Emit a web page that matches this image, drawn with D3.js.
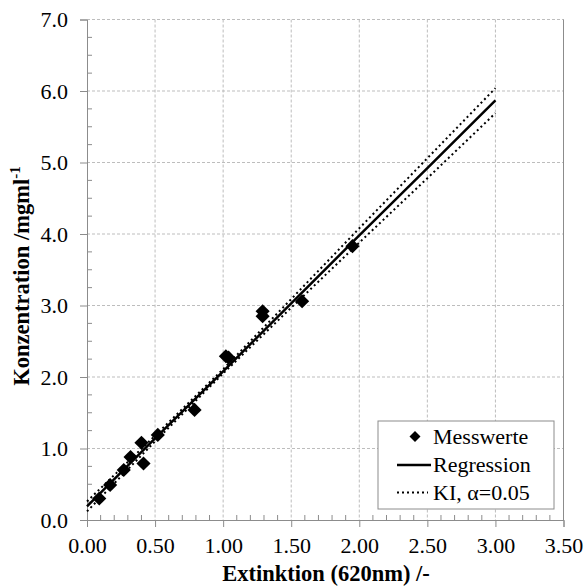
<!DOCTYPE html>
<html>
<head>
<meta charset="utf-8">
<script src="https://cdn.jsdelivr.net/npm/d3@7"></script>
</head>
<body style="margin:0; background:#fff">
<div id="chart"></div>
<script>
// Data
const measX = [0.09, 0.17, 0.27, 0.32, 0.40, 0.415, 0.52, 0.79, 1.02, 1.04, 1.29, 1.29, 1.58, 1.95];
const measY = [0.30, 0.49, 0.70, 0.88, 1.08, 0.79, 1.19, 1.54, 2.29, 2.27, 2.85, 2.92, 3.06, 3.83];

const fitX = [0, 0.5, 1.0, 1.5, 2.0, 2.5, 3.0];
const fitY = [0.19, 1.14, 2.08, 3.03, 3.98, 4.92, 5.87];
const upperY = [0.26, 1.18, 2.11, 3.09, 4.08, 5.06, 6.04];
const lowerY = [0.12, 1.10, 2.05, 2.97, 3.88, 4.78, 5.69];

const xTicks = [0, 0.5, 1.0, 1.5, 2.0, 2.5, 3.0, 3.5];
const yTicks = [0, 1, 2, 3, 4, 5, 6, 7];

const legendLabels = ['Messwerte', 'Regression', 'KI, \u03b1=0.05'];

const serif = '"Liberation Serif"';

// Dimensions
const width = 586, height = 587;
const margin = { top: 19.5, right: 22.5, bottom: 67, left: 87 };
const ctrWidth = width - margin.left - margin.right;
const ctrHeight = height - margin.top - margin.bottom;

const svg = d3.select('#chart')
  .append('svg')
  .attr('width', width)
  .attr('height', height);

const ctr = svg.append('g')
  .attr('transform', `translate(${margin.left}, ${margin.top})`);

// Scales
const xScale = d3.scaleLinear().domain([0, 3.5]).range([0, ctrWidth]);
const yScale = d3.scaleLinear().domain([0, 7]).range([ctrHeight, 0]);

// Grid
ctr.append('g')
  .selectAll('line')
  .data(xTicks.slice(1))
  .join('line')
  .attr('x1', d => xScale(d)).attr('x2', d => xScale(d))
  .attr('y1', 0).attr('y2', ctrHeight)
  .attr('stroke', '#bdbdbd')
  .attr('stroke-dasharray', '3,2');

ctr.append('g')
  .selectAll('line')
  .data(yTicks.slice(1))
  .join('line')
  .attr('x1', 0).attr('x2', ctrWidth)
  .attr('y1', d => yScale(d)).attr('y2', d => yScale(d))
  .attr('stroke', '#bdbdbd')
  .attr('stroke-dasharray', '3,2');

// right border
ctr.append('line')
  .attr('x1', ctrWidth).attr('x2', ctrWidth)
  .attr('y1', 0).attr('y2', ctrHeight)
  .attr('stroke', '#8c8c8c');

// Axes
const xAxis = d3.axisBottom(xScale)
  .tickValues(xTicks)
  .tickFormat(d3.format('.2f'))
  .tickSize(7)
  .tickPadding(10);

const xg = ctr.append('g')
  .attr('transform', `translate(0, ${ctrHeight})`)
  .call(xAxis);

// minor x ticks (inside)
const xMinor = d3.range(0, 3.5001, 0.1).filter(v => Math.abs(v * 2 - Math.round(v * 2)) > 1e-6);
ctr.append('g')
  .selectAll('line')
  .data(xMinor)
  .join('line')
  .attr('x1', d => xScale(d)).attr('x2', d => xScale(d))
  .attr('y1', ctrHeight).attr('y2', ctrHeight - 5)
  .attr('stroke', '#8c8c8c');

const yAxis = d3.axisLeft(yScale)
  .tickValues(yTicks)
  .tickFormat(d3.format('.1f'))
  .tickSize(7)
  .tickPadding(12);

const yg = ctr.append('g').call(yAxis);

const yMinor = d3.range(0, 7.0001, 0.25).filter(v => Math.abs(v - Math.round(v)) > 1e-6);
ctr.append('g')
  .selectAll('line')
  .data(yMinor)
  .join('line')
  .attr('x1', 0).attr('x2', 5)
  .attr('y1', d => yScale(d)).attr('y2', d => yScale(d))
  .attr('stroke', '#8c8c8c');

[xg, yg].forEach(g => {
  g.select('.domain').attr('stroke', '#8c8c8c');
  g.selectAll('.tick line').attr('stroke', '#8c8c8c');
  g.selectAll('.tick text')
    .style('font-family', serif)
    .style('font-size', '22px')
    .attr('fill', '#000');
});

// Lines
const line = d3.line()
  .x(d => xScale(d[0]))
  .y(d => yScale(d[1]));

ctr.append('path')
  .datum(fitX.map((x, i) => [x, upperY[i]]))
  .attr('d', line)
  .attr('fill', 'none')
  .attr('stroke', '#000')
  .attr('stroke-width', 2)
  .attr('stroke-dasharray', '2,3');

ctr.append('path')
  .datum(fitX.map((x, i) => [x, lowerY[i]]))
  .attr('d', line)
  .attr('fill', 'none')
  .attr('stroke', '#000')
  .attr('stroke-width', 2)
  .attr('stroke-dasharray', '2,3');

ctr.append('path')
  .datum(fitX.map((x, i) => [x, fitY[i]]))
  .attr('d', line)
  .attr('fill', 'none')
  .attr('stroke', '#000')
  .attr('stroke-width', 2.5);

// Points
const diamond = d3.symbol(d3.symbolSquare, 100)();
ctr.append('g')
  .selectAll('path')
  .data(measX.map((x, i) => [x, measY[i]]))
  .join('path')
  .attr('d', diamond)
  .attr('transform', d => `translate(${xScale(d[0])}, ${yScale(d[1])}) rotate(45)`)
  .attr('fill', '#000');

// Axis titles
svg.append('text')
  .attr('x', 326)
  .attr('y', 581)
  .attr('text-anchor', 'middle')
  .style('font-family', serif)
  .style('font-size', '22.5px')
  .style('font-weight', 'bold')
  .text('Extinktion (620nm) /-');

const yTitle = svg.append('text')
  .attr('transform', `translate(29, 276) rotate(-90)`)
  .attr('text-anchor', 'middle')
  .style('font-family', serif)
  .style('font-size', '22.5px')
  .style('font-weight', 'bold');
yTitle.append('tspan').text('Konzentration /mgml');
yTitle.append('tspan')
  .attr('dy', -9)
  .style('font-size', '15px')
  .text('-1');

// Legend
const legend = svg.append('g');
legend.append('rect')
  .attr('x', 378).attr('y', 421)
  .attr('width', 176).attr('height', 88)
  .attr('fill', '#fff')
  .attr('stroke', '#8c8c8c');

const rowY = [436.5, 465, 492.5];
legend.append('path')
  .attr('d', d3.symbol(d3.symbolSquare, 60)())
  .attr('transform', `translate(415, ${rowY[0]}) rotate(45)`)
  .attr('fill', '#000');
legend.append('line')
  .attr('x1', 397).attr('x2', 431)
  .attr('y1', rowY[1]).attr('y2', rowY[1])
  .attr('stroke', '#000').attr('stroke-width', 2.5);
legend.append('line')
  .attr('x1', 397).attr('x2', 428)
  .attr('y1', rowY[2]).attr('y2', rowY[2])
  .attr('stroke', '#000').attr('stroke-width', 2)
  .attr('stroke-dasharray', '2,3');

legend.selectAll('text.lab')
  .data(legendLabels)
  .join('text')
  .attr('class', 'lab')
  .attr('x', 433)
  .attr('y', (d, i) => rowY[i])
  .attr('dy', '0.33em')
  .style('font-family', serif)
  .style('font-size', '22px')
  .text(d => d);
</script>
</body>
</html>
